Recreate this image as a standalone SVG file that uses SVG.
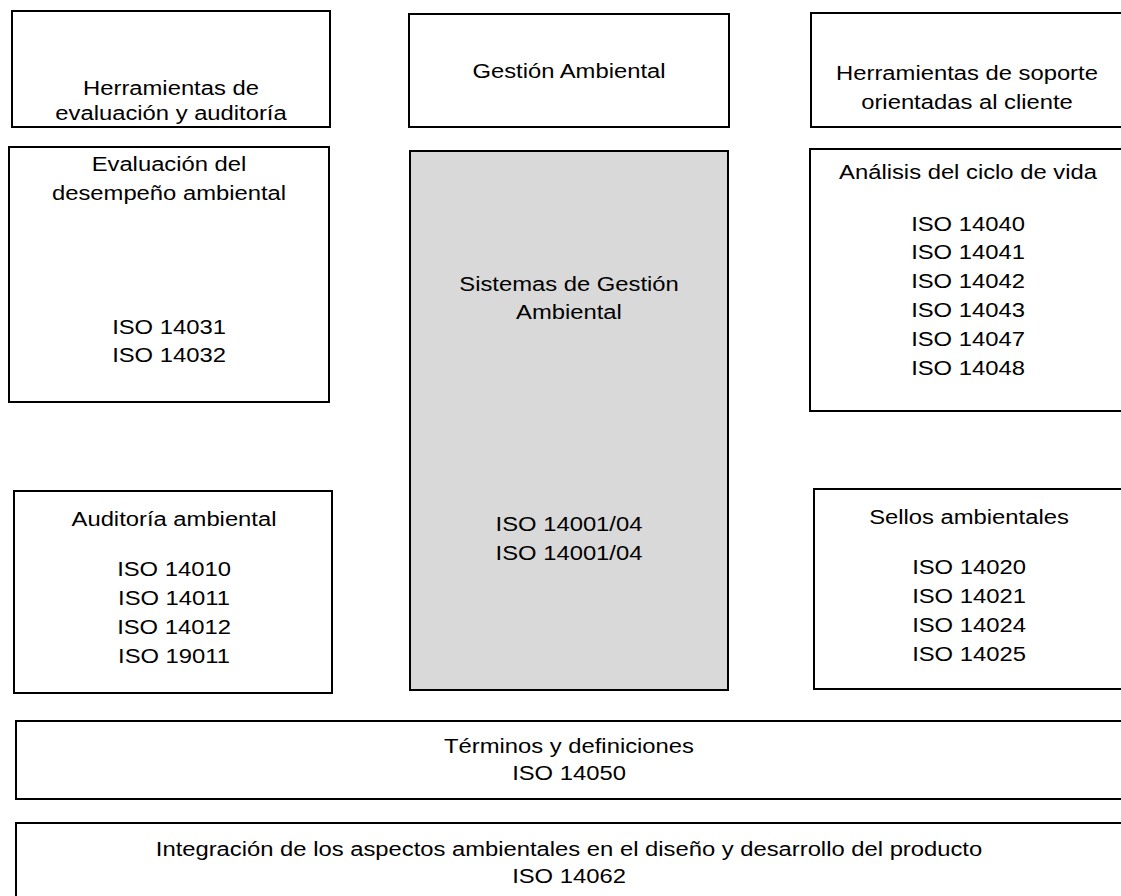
<svg xmlns="http://www.w3.org/2000/svg" width="1121" height="896" viewBox="0 0 1121 896">
<style>
.b{fill:#fff;stroke:#000;stroke-width:2}
.g{fill:#d9d9d9;stroke:#000;stroke-width:2}
text{font-family:"Liberation Sans",Arial,sans-serif;font-size:20px;fill:#000;text-anchor:middle}
</style>
<rect width="1121" height="896" fill="#fff"/>
<g id="herr-eval"><rect class="b" x="12" y="11" width="318" height="116"/>
<g transform="translate(171 0) scale(1.19 1)"><text x="0" y="95">Herramientas de</text><text x="0" y="120">evaluación y auditoría</text></g></g>
<g id="gestion"><rect class="b" x="409" y="14" width="320" height="113"/>
<g transform="translate(569 0) scale(1.19 1)"><text x="0" y="78">Gestión Ambiental</text></g></g>
<g id="herr-soporte"><rect class="b" x="811" y="13" width="330" height="114"/>
<g transform="translate(967 0) scale(1.19 1)"><text x="0" y="80">Herramientas de soporte</text><text x="0" y="109">orientadas al cliente</text></g></g>
<g id="evaluacion"><rect class="b" x="9" y="147" width="320" height="255"/>
<g transform="translate(169 0) scale(1.19 1)"><text x="0" y="171">Evaluación del</text><text x="0" y="200">desempeño ambiental</text>
<text x="0" y="334">ISO 14031</text><text x="0" y="362">ISO 14032</text></g></g>
<g id="sga"><rect class="g" x="410" y="151" width="318" height="539"/>
<g transform="translate(569 0) scale(1.19 1)"><text x="0" y="291">Sistemas de Gestión</text><text x="0" y="319">Ambiental</text>
<text x="0" y="531">ISO 14001/04</text><text x="0" y="560">ISO 14001/04</text></g></g>
<g id="acv"><rect class="b" x="810" y="149" width="330" height="262"/>
<g transform="translate(968 0) scale(1.19 1)"><text x="0" y="179">Análisis del ciclo de vida</text>
<text x="0" y="231">ISO 14040</text><text x="0" y="259">ISO 14041</text><text x="0" y="288">ISO 14042</text><text x="0" y="317">ISO 14043</text><text x="0" y="346">ISO 14047</text><text x="0" y="375">ISO 14048</text></g></g>
<g id="auditoria"><rect class="b" x="14" y="491" width="318" height="202"/>
<g transform="translate(174 0) scale(1.19 1)"><text x="0" y="526">Auditoría ambiental</text>
<text x="0" y="576">ISO 14010</text><text x="0" y="605">ISO 14011</text><text x="0" y="634">ISO 14012</text><text x="0" y="663">ISO 19011</text></g></g>
<g id="sellos"><rect class="b" x="814" y="489" width="330" height="200"/>
<g transform="translate(969 0) scale(1.19 1)"><text x="0" y="524">Sellos ambientales</text>
<text x="0" y="574">ISO 14020</text><text x="0" y="603">ISO 14021</text><text x="0" y="632">ISO 14024</text><text x="0" y="661">ISO 14025</text></g></g>
<g id="terminos"><rect class="b" x="16" y="721" width="1120" height="78"/>
<g transform="translate(569 0) scale(1.19 1)"><text x="0" y="753">Términos y definiciones</text><text x="0" y="780">ISO 14050</text></g></g>
<g id="integracion"><rect class="b" x="16" y="823" width="1120" height="90"/>
<g transform="translate(569 0) scale(1.19 1)"><text x="0" y="856">Integración de los aspectos ambientales en el diseño y desarrollo del producto</text><text x="0" y="883">ISO 14062</text></g></g>
<g id="connectors"></g>
</svg>
